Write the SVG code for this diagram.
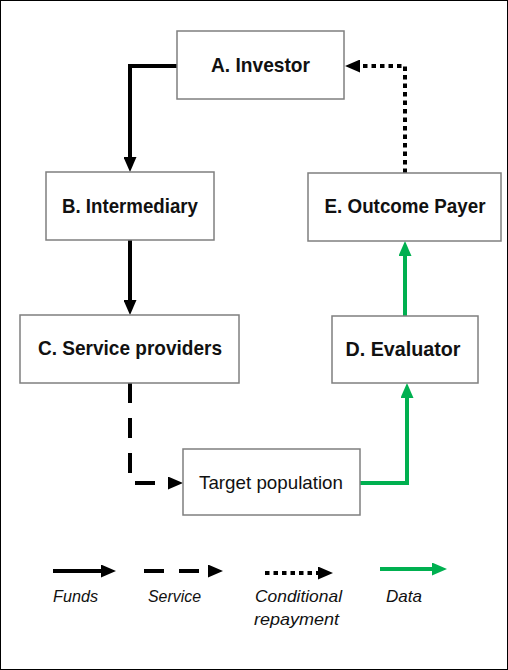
<svg xmlns="http://www.w3.org/2000/svg" width="508" height="670" viewBox="0 0 508 670">
<defs>
<style>
.box{fill:#fff;stroke:#7f7f7f;stroke-width:1.5}
.lbl{font-family:"Liberation Sans",Arial,sans-serif;font-weight:bold;font-size:21px;fill:#111;text-anchor:middle}
.reg{font-family:"Liberation Sans",Arial,sans-serif;font-size:19px;fill:#111;text-anchor:middle}
.leg{font-family:"Liberation Sans",Arial,sans-serif;font-style:italic;font-size:17px;fill:#111}
.k{fill:none;stroke:#000;stroke-width:4}
.g{fill:none;stroke:#00B050;stroke-width:4}
.dash{stroke-dasharray:20 15}
.dot{stroke-dasharray:4.5 4}
</style>
<marker id="ak" markerUnits="userSpaceOnUse" markerWidth="15" markerHeight="13" refX="0" refY="6.5" orient="auto"><path d="M0,0 L15,6.5 L0,13 z" fill="#000"/></marker>
<marker id="ag" markerUnits="userSpaceOnUse" markerWidth="15" markerHeight="13" refX="0" refY="6.5" orient="auto"><path d="M0,0 L15,6.5 L0,13 z" fill="#00B050"/></marker>
</defs>
<rect x="0.5" y="0.5" width="507" height="669" fill="#fff" stroke="#000" stroke-width="1"/>
<g id="connectors">
<path class="k" d="M177,66 H130 V157" marker-end="url(#ak)"/>
<path class="k" d="M130,240 V300" marker-end="url(#ak)"/>
<path class="k dash" d="M130,383 V483 H168" marker-end="url(#ak)"/>
<path class="g" d="M360,483 H407 V398" marker-end="url(#ag)"/>
<path class="g" d="M405,316 V256" marker-end="url(#ag)"/>
<path class="k dot" d="M405,173 V66 H360" marker-end="url(#ak)"/>
</g>
<g id="A"><rect class="box" x="177" y="31" width="167" height="68"/><text class="lbl" x="260.5" y="72" textLength="99" lengthAdjust="spacingAndGlyphs">A. Investor</text></g>
<g id="B"><rect class="box" x="46" y="172" width="168" height="68"/><text class="lbl" x="130" y="213" textLength="136" lengthAdjust="spacingAndGlyphs">B. Intermediary</text></g>
<g id="C"><rect class="box" x="20" y="315" width="219" height="68"/><text class="lbl" x="130" y="355" textLength="184" lengthAdjust="spacingAndGlyphs">C. Service providers</text></g>
<g id="E"><rect class="box" x="308" y="173" width="193" height="68"/><text class="lbl" x="405" y="213" textLength="161" lengthAdjust="spacingAndGlyphs">E. Outcome Payer</text></g>
<g id="D"><rect class="box" x="332" y="316" width="146" height="67"/><text class="lbl" x="403" y="355.5" textLength="115" lengthAdjust="spacingAndGlyphs">D. Evaluator</text></g>
<g id="T"><rect class="box" x="183" y="449" width="177" height="66"/><text class="reg" x="271" y="489" textLength="144" lengthAdjust="spacingAndGlyphs">Target population</text></g>
<g id="legend">
<path class="k" d="M53,571 H101" marker-end="url(#ak)"/>
<path class="k dash" d="M144,571 H208" marker-end="url(#ak)"/>
<path class="k dot" d="M265,573 H318" marker-end="url(#ak)"/>
<path class="g" d="M380,569 H432" marker-end="url(#ag)"/>
<text class="leg" x="53" y="602" textLength="45" lengthAdjust="spacingAndGlyphs">Funds</text>
<text class="leg" x="148" y="602" textLength="53" lengthAdjust="spacingAndGlyphs">Service</text>
<text class="leg" x="255" y="602" textLength="87" lengthAdjust="spacingAndGlyphs">Conditional</text>
<text class="leg" x="254" y="625" textLength="85" lengthAdjust="spacingAndGlyphs">repayment</text>
<text class="leg" x="386" y="602" textLength="36" lengthAdjust="spacingAndGlyphs">Data</text>
</g>
</svg>
